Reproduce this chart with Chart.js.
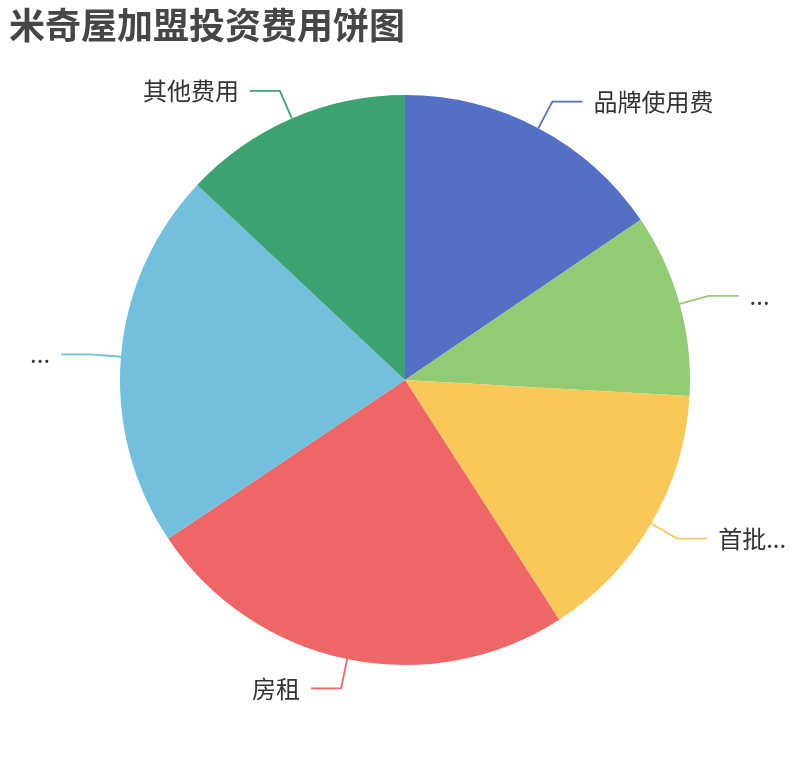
<!DOCTYPE html>
<html>
<head>
<meta charset="utf-8">
<script src="https://cdn.jsdelivr.net/npm/chart.js@4"></script>
<style>
  html, body { margin: 0; padding: 0; background: #fff; }
  #wrap { width: 810px; height: 760px; position: relative; }
</style>
</head>
<body>
<div id="wrap"><canvas id="myChart"></canvas></div>
<script>
// Chart data
const title = "米奇屋加盟投资费用饼图";
const categories = ["品牌使用费", "...", "首批...", "房租", "...", "其他费用"];
const values = [15.5, 10.4, 15.0, 24.7, 21.4, 13.0];
const colors = ["#5470c6", "#91cc75", "#fac858", "#ee6666", "#73c0de", "#3ba272"];

const FONT = '"Noto Sans CJK SC", "Noto Sans", sans-serif';

// Draws the title and the outside labels with leader lines (echarts style)
const pieLabels = {
  id: "pieLabels",
  afterDatasetsDraw(chart) {
    const ctx = chart.ctx;
    const meta = chart.getDatasetMeta(0);

    ctx.save();
    ctx.fillStyle = "#464646";
    ctx.font = "bold 36px " + FONT;
    ctx.textAlign = "left";
    ctx.textBaseline = "middle";
    ctx.fillText(title, 9, 25);

    ctx.font = "24px " + FONT;
    ctx.lineWidth = 1.8;
    meta.data.forEach((arc, i) => {
      const { x, y, startAngle, endAngle, outerRadius } = arc.getProps(
        ["x", "y", "startAngle", "endAngle", "outerRadius"], true);
      const mid = (startAngle + endAngle) / 2;
      const cos = Math.cos(mid), sin = Math.sin(mid);
      const x0 = x + outerRadius * cos, y0 = y + outerRadius * sin;
      const x1 = x0 + 30 * cos, y1 = y0 + 30 * sin;
      const dir = cos >= 0 ? 1 : -1;
      const x2 = x1 + 30 * dir;

      ctx.strokeStyle = colors[i];
      ctx.beginPath();
      ctx.moveTo(x0, y0);
      ctx.lineTo(x1, y1);
      ctx.lineTo(x2, y1);
      ctx.stroke();

      ctx.fillStyle = "#333";
      ctx.textAlign = dir > 0 ? "left" : "right";
      ctx.fillText(categories[i], x2 + 11 * dir, y1);
    });
    ctx.restore();
  },
};

const ctx = document.getElementById("myChart").getContext("2d");

const config = {
  type: "pie",
  data: {
    labels: categories,
    datasets: [
      {
        data: values,
        backgroundColor: colors,
        borderWidth: 0,
        hoverOffset: 0,
        offset: 0,
      },
    ],
  },
  options: {
    responsive: true,
    maintainAspectRatio: false,
    animation: false,
    layout: {
      padding: { left: 120, right: 120, top: 95, bottom: 95 },
    },
    plugins: {
      legend: { display: false },
      tooltip: { enabled: true },
    },
  },
  plugins: [pieLabels],
};

const myChart = new Chart(ctx, config);
</script>
</body>
</html>
